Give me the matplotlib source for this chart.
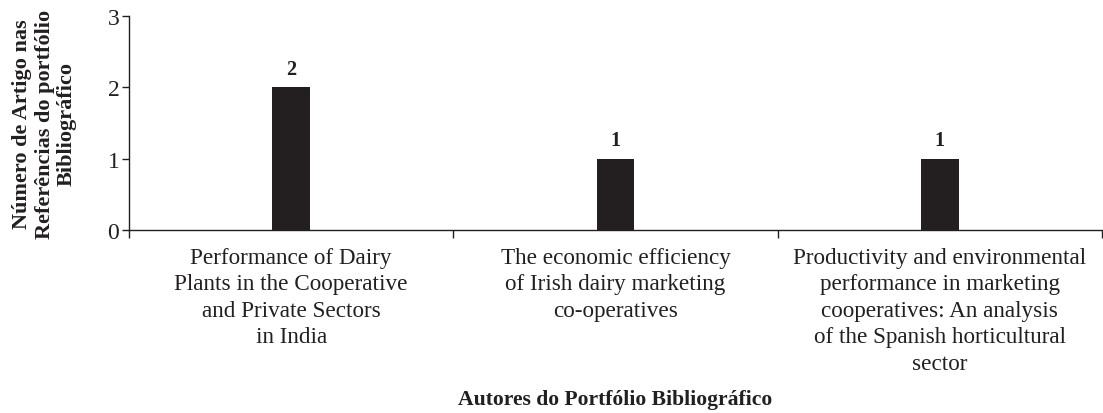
import matplotlib.pyplot as plt
import numpy as np

plt.rcParams['font.family'] = ['Liberation Serif', 'DejaVu Serif']

titles = ["Performance of Dairy\nPlants in the Cooperative\nand Private Sectors\nin India",
          "The economic efficiency\nof Irish dairy marketing\nco-operatives",
          "Productivity and environmental\nperformance in marketing\ncooperatives: An analysis\nof the Spanish horticultural\nsector"]
counts = [2, 1, 1]

fig = plt.figure(figsize=(11.03, 4.14), dpi=100)
ax = fig.add_axes([0.117, 0.442, 0.882, 0.517])

x = np.arange(len(titles))
bars = ax.bar(x, counts, width=0.117, color="#231f20")
for b, v in zip(bars, counts):
    ax.text(b.get_x() + b.get_width() / 2, v + 0.12, str(v), ha="center", va="bottom",
            fontsize=14.5, fontweight="bold", color="#231f20")

ax.set_xlim(-0.5, len(titles) - 0.5)
ax.set_ylim(0, 3)
ax.set_yticks([0, 1, 2, 3])
ax.tick_params(axis="y", labelsize=17, length=5, width=1, colors="#231f20", pad=2)

# category boundaries get tick marks, labels sit at the centres
ax.set_xticks(np.arange(-0.5, len(titles) + 0.5, 1))
ax.set_xticklabels([])
ax.tick_params(axis="x", which="major", length=6, width=1, colors="#231f20")
ax.set_xticks(x, minor=True)
ax.set_xticklabels(titles, minor=True, fontsize=16.7, color="#231f20", linespacing=1.35)
ax.tick_params(axis="x", which="minor", length=0, pad=12)

for s in ["top", "right"]:
    ax.spines[s].set_visible(False)
for s in ["left", "bottom"]:
    ax.spines[s].set_color("#231f20")
    ax.spines[s].set_linewidth(1)

ax.set_ylabel("Número de Artigo nas\nReferências do portfólio\nBibliográfico", fontsize=16,
              fontweight="bold", color="#231f20", linespacing=1.15, labelpad=22)
fig.text(0.558, 0.035, "Autores do Portfólio Bibliográfico", ha="center", va="center",
         fontsize=15.6, fontweight="bold", color="#231f20")

fig.savefig("out.png", dpi=100)
